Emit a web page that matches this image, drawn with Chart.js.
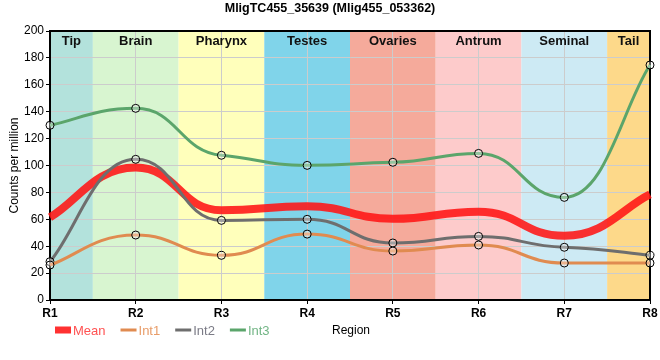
<!DOCTYPE html>
<html><head><meta charset="utf-8">
<script src="https://cdn.jsdelivr.net/npm/chart.js@4.4.1/dist/chart.umd.min.js"></script>
<style>html,body{margin:0;padding:0;background:#fff}#wrap{width:660px;height:360px}</style>
</head><body><div id="wrap"><canvas id="c" width="660" height="360"></canvas></div>
<script>
const chartTitle = 'MligTC455_35639 (Mlig455_053362)';
const categories = ['R1', 'R2', 'R3', 'R4', 'R5', 'R6', 'R7', 'R8'];
const regionNames = ['Tip', 'Brain', 'Pharynx', 'Testes', 'Ovaries', 'Antrum', 'Seminal', 'Tail'];
const seriesNames = ['Mean', 'Int1', 'Int2', 'Int3'];
const meanValues = [61.5, 98.5, 66.7, 69.7, 60.4, 65.7, 47.7, 78.5];
const int1Values = [26, 48.3, 33.2, 49, 36.4, 40.9, 27.5, 27.5];
const int2Values = [28.5, 104.6, 59.2, 60, 42.4, 47.3, 39.2, 33.2];
const int3Values = [129.9, 142.5, 107.6, 100.1, 102.4, 109, 76.3, 174.7];
const yAxisTitle = 'Counts per million';
const xAxisTitle = 'Region';

const regionColors = ['#b3e2dc', '#d8f5d0', '#ffffbb', '#80d4ea', '#f5aa9b', '#fdcbcb', '#cdeaf4', '#fdd98a'];
const lineColors = ['rgba(255,20,20,0.88)', '#e08b50', '#6e6e6e', '#5ba56b'];
const legendTextColors = ['#ff5252', '#e89c68', '#7b7b86', '#72b585'];
const lineWidths = [8, 3, 3, 3];

const FONT = "'Liberation Sans', Arial, sans-serif";

const decor = {
  id: 'decor',
  beforeDraw(chart) {
    const { ctx, chartArea: a, scales: { x } } = chart;
    ctx.save();
    regionNames.forEach((name, i) => {
      const l = Math.max(a.left, x.getPixelForValue(i - 0.5));
      const r = Math.min(a.right, x.getPixelForValue(i + 0.5));
      ctx.fillStyle = regionColors[i];
      ctx.fillRect(l, a.top, r - l, a.bottom - a.top);
    });
    ctx.restore();
  },
  beforeDatasetsDraw(chart) {
    const { ctx, chartArea: a, scales: { x } } = chart;
    // flatten the curve around interior points (plateau-like smoothing)
    chart.getSortedVisibleDatasetMetas().forEach(meta => {
      const line = meta.dataset;
      if (!line) return;
      line.updateControlPoints(chart.chartArea, meta.indexAxis);
      const pts = meta.data;
      for (let i = 1; i < pts.length - 1; i++) {
        const p = pts[i];
        p.cp1x = p.x - (p.x - p.cp1x) * 1.45;
        p.cp1y = p.y - (p.y - p.cp1y) * 0.4;
        p.cp2x = p.x + (p.cp2x - p.x) * 1.45;
        p.cp2y = p.y + (p.cp2y - p.y) * 0.4;
      }
    });
    ctx.save();
    ctx.fillStyle = '#111';
    ctx.font = 'bold 13px ' + FONT;
    ctx.textAlign = 'center';
    ctx.textBaseline = 'middle';
    regionNames.forEach((name, i) => {
      const l = Math.max(a.left, x.getPixelForValue(i - 0.5));
      const r = Math.min(a.right, x.getPixelForValue(i + 0.5));
      ctx.fillText(name, (l + r) / 2, a.top + 10);
    });
    ctx.strokeStyle = '#000';
    ctx.lineWidth = 2;
    ctx.strokeRect(a.left, a.top, a.right - a.left, a.bottom - a.top);
    ctx.restore();
  },
  afterDraw(chart) {
    const { ctx, chartArea: a } = chart;
    ctx.save();
    ctx.fillStyle = '#000';
    ctx.font = 'bold 12.5px ' + FONT;
    ctx.textAlign = 'center';
    ctx.textBaseline = 'middle';
    ctx.fillText(chartTitle, chart.width / 2, 9);
    const ly = 330;
    let lx = 55;
    ctx.font = '13px ' + FONT;
    ctx.textAlign = 'left';
    chart.data.datasets.forEach((ds, i) => {
      ctx.strokeStyle = ds.borderColor;
      ctx.lineWidth = i === 0 ? 7 : 3;
      ctx.beginPath();
      ctx.moveTo(lx, ly);
      ctx.lineTo(lx + 16, ly);
      ctx.stroke();
      lx += 16 + 2;
      ctx.fillStyle = legendTextColors[i];
      ctx.fillText(ds.label, lx, ly + 1);
      lx += ctx.measureText(ds.label).width + 15;
    });
    ctx.fillStyle = '#000';
    ctx.font = '12px ' + FONT;
    ctx.textAlign = 'center';
    ctx.fillText(xAxisTitle, (a.left + a.right) / 2 + 1, ly + 1);
    ctx.restore();
  }
};

const allValues = [meanValues, int1Values, int2Values, int3Values];
const datasets = seriesNames.map((name, i) => ({
  label: name,
  data: allValues[i],
  borderColor: lineColors[i],
  backgroundColor: lineColors[i],
  borderWidth: lineWidths[i],
  cubicInterpolationMode: 'monotone',
  fill: false,
  order: i === 0 ? 1 : 0,
  pointRadius: i === 0 ? 0 : 4,
  pointHoverRadius: i === 0 ? 0 : 4,
  pointBorderColor: '#000',
  pointBorderWidth: 1,
  pointBackgroundColor: 'rgba(255,255,255,0.35)',
  borderCapStyle: 'butt'
}));

new Chart(document.getElementById('c'), {
  type: 'line',
  data: { labels: categories, datasets },
  options: {
    responsive: false,
    devicePixelRatio: 1,
    animation: false,
    layout: { padding: { top: 31, left: 0, right: 10, bottom: 35 } },
    plugins: { legend: { display: false }, title: { display: false }, tooltip: { enabled: false } },
    scales: {
      x: {
        type: 'category',
        offset: false,
        grid: { color: '#cccccc', tickColor: '#000', tickLength: 4, drawTicks: true },
        border: { display: true, color: '#000', width: 2 },
        ticks: { color: '#000', font: { family: FONT, size: 12, weight: 'bold' }, padding: 2, maxRotation: 0, autoSkip: false },
        afterFit(s) { s.height = 25; }
      },
      y: {
        min: 0, max: 200,
        grid: { color: '#cccccc', tickColor: '#000', tickLength: 4, drawTicks: true },
        border: { display: true, color: '#000', width: 2 },
        ticks: { stepSize: 20, color: '#000', font: { family: FONT, size: 12 }, padding: 2 },
        title: { display: true, text: yAxisTitle, color: '#000', font: { family: FONT, size: 12 }, padding: { top: 7, bottom: 0 } },
        afterFit(s) { s.width = 50; }
      }
    }
  },
  plugins: [decor]
});
</script></body></html>
